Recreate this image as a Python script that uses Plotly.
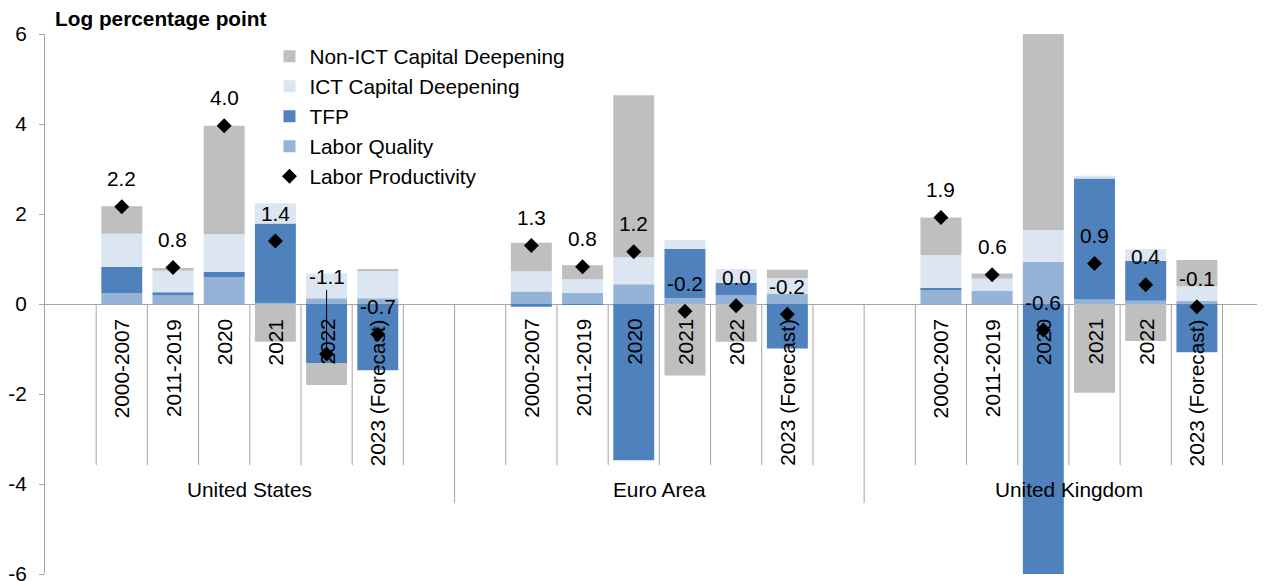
import plotly.graph_objects as go

REGIONS = ["United States", "Euro Area", "United Kingdom"]
CATEGORIES = ["2000-2007", "2011-2019", "2020", "2021", "2022", "2023 (Forecast)"]

LABOR_QUALITY = [0.24, 0.19, 0.60, 0.03, 0.13, 0.13,
                 0.28, 0.25, 0.44, 0.13, 0.20, 0.23,
                 0.32, 0.27, 0.94, 0.10, 0.07, 0.07]
TFP = [0.59, 0.07, 0.11, 1.76, -1.31, -1.47,
       -0.06, -0.01, -3.47, 1.09, 0.27, -0.99,
       0.04, 0.01, -7.82, 2.69, 0.89, -1.07]
ICT_CAPITAL = [0.73, 0.48, 0.84, 0.45, 0.55, 0.61,
               0.45, 0.30, 0.60, 0.20, 0.31, 0.35,
               0.73, 0.28, 0.70, 0.06, 0.26, 0.32]
NON_ICT_CAPITAL = [0.61, 0.06, 2.41, -0.84, -0.49, 0.02,
                   0.63, 0.31, 3.60, -1.59, -0.84, 0.18,
                   0.83, 0.12, 5.60, -1.97, -0.82, 0.59]
LABOR_PRODUCTIVITY = [2.16, 0.81, 3.96, 1.40, -1.11, -0.67,
                      1.30, 0.83, 1.16, -0.16, -0.04, -0.23,
                      1.92, 0.65, -0.58, 0.90, 0.43, -0.06]
LP_LABELS = ["2.2", "0.8", "4.0", "1.4", "-1.1", "-0.7",
             "1.3", "0.8", "1.2", "-0.2", "0.0", "-0.2",
             "1.9", "0.6", "-0.6", "0.9", "0.4", "-0.1"]
Y_TICKS = [-6, -4, -2, 0, 2, 4, 6]

FONT = "Arial, 'Liberation Sans', sans-serif"
GREY_LINE = "#A6A6A6"
FS = 20.8

# category slots: one blank slot before and after each region's six categories
SLOTS_PER_REGION = len(CATEGORIES) + 2
X = [g * SLOTS_PER_REGION + 1 + j for g in range(len(REGIONS)) for j in range(len(CATEGORIES))]
N_SLOTS = SLOTS_PER_REGION * len(REGIONS)

fig = go.Figure()
bar_specs = [
    ("Labor Quality", LABOR_QUALITY, "#95B3D7", 4),
    ("TFP", TFP, "#4F81BD", 3),
    ("ICT Capital Deepening", ICT_CAPITAL, "#DCE6F2", 2),
    ("Non-ICT Capital Deepening", NON_ICT_CAPITAL, "#BFBFBF", 1),
]
for name, vals, col, rank in bar_specs:
    fig.add_trace(go.Bar(x=X, y=vals, name=name, width=0.8,
                         marker=dict(color=col, line=dict(width=0)),
                         legendrank=rank, hoverinfo="skip"))

fig.add_trace(go.Scatter(x=X, y=LABOR_PRODUCTIVITY, mode="markers", name="Labor Productivity",
                         marker=dict(symbol="diamond", size=11.5, color="black"),
                         legendrank=5, hoverinfo="skip"))

annotations = []
# data labels for labor productivity
for i, (x, v, lab) in enumerate(zip(X, LABOR_PRODUCTIVITY, LP_LABELS)):
    if i == 4:  # US 2022 label moved up with a leader line
        annotations.append(dict(x=x, y=v, xref="x", yref="y", text=lab, showarrow=True,
                                arrowhead=0, arrowwidth=1, arrowcolor="black", ax=0, ay=-77,
                                standoff=0, font=dict(family=FONT, size=FS, color="black")))
    else:
        annotations.append(dict(x=x, y=v, xref="x", yref="y", text=lab, showarrow=False,
                                yshift=28, font=dict(family=FONT, size=FS, color="black")))

# rotated category labels and region labels
for g in range(len(REGIONS)):
    for j, c in enumerate(CATEGORIES):
        annotations.append(dict(x=X[g * len(CATEGORIES) + j], y=0, xref="x", yref="y", text=c,
                                textangle=-90, showarrow=False, yanchor="top", yshift=-13,
                                font=dict(family=FONT, size=FS, color="black")))
    annotations.append(dict(x=g * SLOTS_PER_REGION + 1 + (len(CATEGORIES) - 1) / 2, y=-4.13,
                            xref="x", yref="y", text=REGIONS[g], showarrow=False,
                            font=dict(family=FONT, size=FS, color="black")))

annotations.append(dict(x=0, y=1, xref="paper", yref="paper", text="<b>Log percentage point</b>",
                        showarrow=False, xanchor="left", yanchor="middle", xshift=8, yshift=16,
                        font=dict(family=FONT, size=FS, color="black")))

shapes = []
for s in range(N_SLOTS):
    b = s + 0.5
    pos = s % SLOTS_PER_REGION
    if pos == SLOTS_PER_REGION - 1:
        y1 = -4.42  # region divider
    elif pos <= len(CATEGORIES):
        y1 = -3.58  # category divider
    else:
        continue
    shapes.append(dict(type="line", xref="x", yref="y", x0=b, x1=b, y0=0, y1=y1,
                       line=dict(color=GREY_LINE, width=1), layer="below"))

# page body has an 8px margin: figure is sized to fill the rest of the 1265x581 window
fig.update_layout(
    width=1257, height=573,
    margin=dict(l=37, r=0, t=26, b=7, autoexpand=False),
    paper_bgcolor="white", plot_bgcolor="white",
    barmode="relative", bargap=0.2,
    showlegend=True,
    legend=dict(x=0.184, y=0.996, xanchor="left", yanchor="top",
                font=dict(family=FONT, size=FS, color="black"),
                bgcolor="rgba(0,0,0,0)", traceorder="normal"),
    xaxis=dict(range=[-0.5, N_SLOTS - 0.67], showticklabels=False, showgrid=False,
               zeroline=False, showline=False, ticks="", automargin=False),
    yaxis=dict(range=[-6, 6], tickvals=Y_TICKS, ticktext=[str(v) for v in Y_TICKS],
               showgrid=False, zeroline=True, zerolinecolor=GREY_LINE, zerolinewidth=1,
               showline=True, linecolor=GREY_LINE, linewidth=1,
               ticks="outside", ticklen=5, tickcolor=GREY_LINE,
               tickfont=dict(family=FONT, size=FS, color="black"), ticklabelstandoff=8,
               ticklabeloverflow="allow", automargin=False),
    annotations=annotations,
    shapes=shapes,
    font=dict(family=FONT, size=FS, color="black"),
)

fig.write_html("out.html")
